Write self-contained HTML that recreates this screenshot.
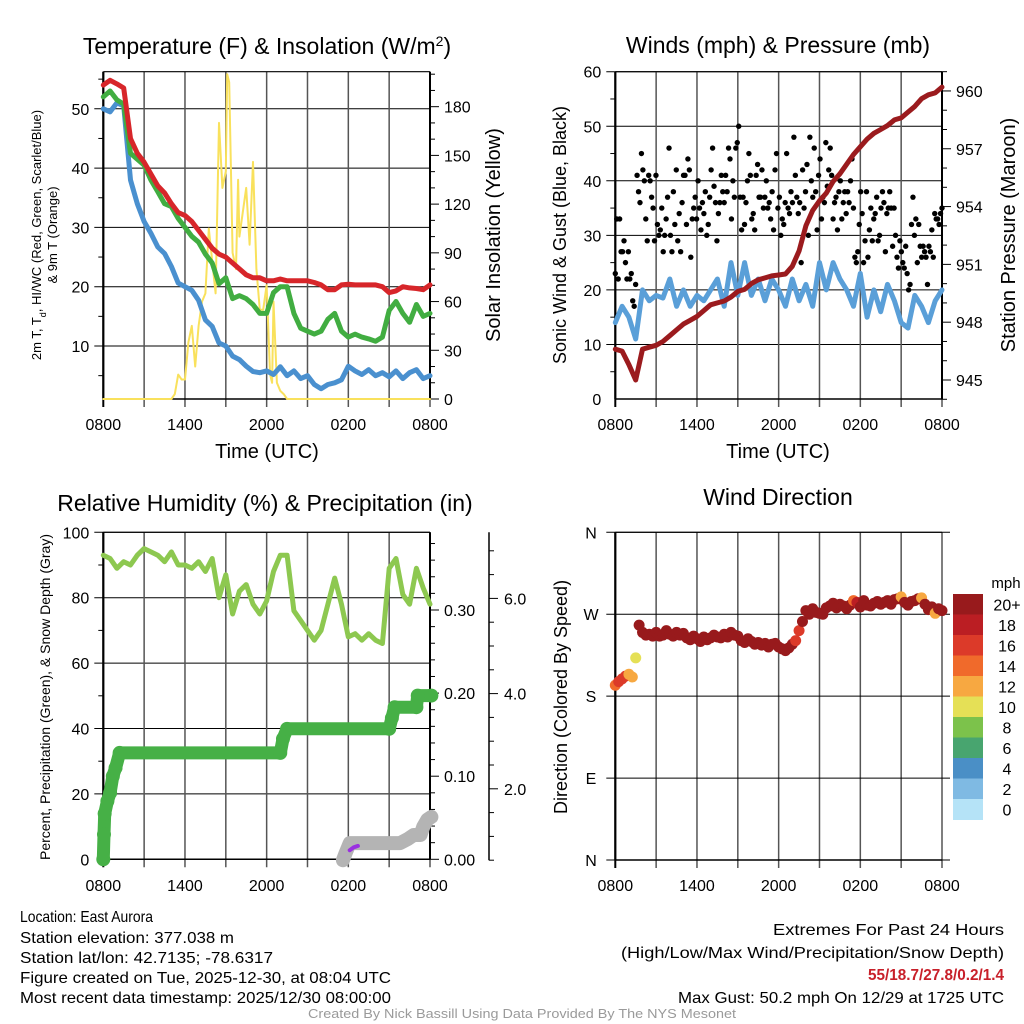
<!DOCTYPE html>
<html><head><meta charset="utf-8"><style>
html,body{margin:0;padding:0;background:#fff}
svg{display:block;font-family:"Liberation Sans",sans-serif}
</style></head><body>
<svg id="fig" width="1024" height="1024" viewBox="0 0 1024 1024">
<rect width="1024" height="1024" fill="#fff"/>
<g id="p1"></g>
<g id="p2"></g>
<g id="p3"></g>
<g id="p4"></g>
<text x="267" y="54" font-size="23" text-anchor="middle">Temperature (F) &amp; Insolation (W/m<tspan baseline-shift="super" font-size="14">2</tspan>)</text>
<text x="778" y="53" font-size="23" text-anchor="middle">Winds (mph) &amp; Pressure (mb)</text>
<text x="265" y="511" font-size="23" text-anchor="middle">Relative Humidity (%) &amp; Precipitation (in)</text>
<text x="778" y="505" font-size="23" text-anchor="middle">Wind Direction</text>
<text transform="translate(41,235) rotate(-90)" font-size="13" text-anchor="middle">2m T, T<tspan baseline-shift="sub" font-size="9">d</tspan>, HI/WC (Red, Green, Scarlet/Blue)</text>
<text transform="translate(57,235) rotate(-90)" font-size="13" text-anchor="middle">&amp; 9m T (Orange)</text>
<text transform="translate(500,235) rotate(-90)" font-size="20" text-anchor="middle">Solar Insolation (Yellow)</text>
<text transform="translate(566,235) rotate(-90)" font-size="18" text-anchor="middle">Sonic Wind &amp; Gust (Blue, Black)</text>
<text transform="translate(1015,235) rotate(-90)" font-size="20" text-anchor="middle">Station Pressure (Maroon)</text>
<text transform="translate(50,697) rotate(-90)" font-size="14" text-anchor="middle">Percent, Precipitation (Green), &amp; Snow Depth (Gray)</text>
<text transform="translate(567,697) rotate(-90)" font-size="18" text-anchor="middle">Direction (Colored By Speed)</text>
<text x="267" y="458" font-size="20" text-anchor="middle">Time (UTC)</text>
<text x="778" y="458" font-size="20" text-anchor="middle">Time (UTC)</text>
<g font-size="16">
<text x="20" y="922" textLength="133" lengthAdjust="spacingAndGlyphs">Location: East Aurora</text>
<text x="20" y="943" textLength="214" lengthAdjust="spacingAndGlyphs">Station elevation: 377.038 m</text>
<text x="20" y="963" textLength="253" lengthAdjust="spacingAndGlyphs">Station lat/lon: 42.7135; -78.6317</text>
<text x="20" y="983" textLength="371" lengthAdjust="spacingAndGlyphs">Figure created on Tue, 2025-12-30, at 08:04 UTC</text>
<text x="20" y="1003" textLength="371" lengthAdjust="spacingAndGlyphs">Most recent data timestamp: 2025/12/30 08:00:00</text>
</g>
<g font-size="16">
<text x="773" y="935" textLength="231" lengthAdjust="spacingAndGlyphs">Extremes For Past 24 Hours</text>
<text x="621" y="958" textLength="383" lengthAdjust="spacingAndGlyphs">(High/Low/Max Wind/Precipitation/Snow Depth)</text>
<text x="868" y="980" textLength="136" lengthAdjust="spacingAndGlyphs" fill="#c8202a" font-weight="bold">55/18.7/27.8/0.2/1.4</text>
<text x="678" y="1003" textLength="326" lengthAdjust="spacingAndGlyphs">Max Gust: 50.2 mph On 12/29 at 1725 UTC</text>
</g>
<text x="308" y="1018" font-size="13" fill="#9a9a9a" textLength="428" lengthAdjust="spacingAndGlyphs">Created By Nick Bassill Using Data Provided By The NYS Mesonet</text>
</svg>
<script>
// ---- data (half-hour steps from 0800 UTC, hours 0..24) ----
const xTickLabels = ["0800","1400","2000","0200","0800"];
const tempF = [54,54.8,54.2,53.5,45,42.5,41,39,37,35.8,34,32.5,32,31,29.5,28,26.5,25.5,25,24,23,22,21.5,21.5,21,21,21.3,21,21,21,21,20.7,20.3,19.5,19.5,20.3,20.4,20.3,20.3,20.3,20.3,20,19,19.3,20,19.8,19.7,19.5,20.3];
const dewF = [52,53,51.5,50.8,42.5,41.5,40.5,38,36,34,33.5,31.5,30,28.5,27.5,25.5,24,20.5,21.5,18,18.5,18,17,15.5,15.5,19,20,20,15.5,13,12.5,12,12.5,14.5,15.5,12.5,11.5,12,11.5,11.2,10.8,11.5,16,17.5,15.5,14,17,15,15.5];
const chillF = [50,49.5,51,50.5,38,34,31,29,26.7,25.6,23.4,20.6,20,19.4,17.7,14.4,13.3,10.5,10,8.3,7.7,6.6,5.7,5.5,5.8,5.2,6.5,5,5.8,4.5,5,3.5,2.8,3.5,3.8,4.3,6.6,5.8,5.2,6,5,5.5,4.8,5.8,4.5,5.5,6,4.5,5];
const solarHours = [0,5,5.25,5.5,5.75,6,6.25,6.5,6.75,7,7.25,7.5,7.75,8,8.25,8.5,8.75,9,9.1,9.25,9.5,9.75,9.9,10,10.25,10.5,10.75,11,11.25,11.5,11.75,12,12.25,12.4,12.5,12.75,13,13.25,13.5,24];
const solarWm2 = [0,0,3,15,12,12,35,45,20,45,60,65,105,85,65,170,130,140,200,195,90,80,135,100,115,130,95,146,80,55,55,70,15,10,60,10,5,3,0,0];
const windMph = [14,17,15,11,20,18,19,18.5,22,17,20,17,19,18,20,22,17,25,19,25,19,22,18,22,20,17,22,18,21,17,25,20,25,22,20,17,23,15,20,16,21,18,14,13,19,17,14,18,20];
const gustMph = [23,33,22,33,27,27,29,25,22,27,22,23,18,17,21,41,38,36,45,42,40,33,29,41,40,37,35,29,41,32,30,31,35,27,30,33,37,46,30,27,38,32,42,29,34,27,36,41,41,32,44,42,26,33,35,37,33,40,35,31,36,34,38,30,32,37,42,46,39,36,29,34,36,41,38,36,41,38,46,44,33,40,37,46,47,50,37,31,37,32,36,40,45,41,33,34,31,41,43,37,37,42,35,37,40,35,36,33,38,31,42,45,35,37,30,33,32,36,45,35,34,38,36,48,41,37,34,36,25,42,35,38,43,30,48,40,37,46,38,31,41,44,33,37,36,47,39,42,46,41,33,36,37,31,38,40,33,36,38,34,38,36,40,44,35,26,25,27,32,38,34,25,29,38,26,31,35,29,33,34,37,29,30,35,38,36,27,34,35,38,35,28,35,30,26,24,29,27,25,24,28,23,20,21,32,37,30,33,25,32,28,26,28,27,26,21,28,27,31,26,34,33,33,32,34,35];
const pressureMb = [946.6,946.5,945.8,945.0,946.6,946.7,946.8,947.0,947.3,947.6,947.9,948.1,948.3,948.6,948.9,949.0,949.1,949.3,949.6,949.7,950.0,950.2,950.3,950.4,950.45,950.5,950.9,951.7,953.0,953.8,954.3,954.7,955.3,955.7,956.2,956.7,957.1,957.5,957.8,958.0,958.2,958.5,958.6,958.9,959.2,959.6,959.8,959.9,960.2];
const rhPct = [93,92,89,91,90,93,95,94,93,91,94,90,90,89,91,88,92,80,87,75,82,84,78,75,79,88,93,93,76,73,70,67,70,78,86,78,68,69,67,69,67,66,89,92,81,78,89,83,78];
const precipHours = [0,0.05,0.1,0.3,0.5,0.7,0.9,1.2,13.0,13.2,13.5,21.0,21.2,21.4,23.0,23.1,24.1];
const precipIn = [0,0.03,0.055,0.07,0.08,0.1,0.11,0.128,0.128,0.145,0.157,0.157,0.17,0.183,0.183,0.197,0.197];
const snowHours = [17.6,17.8,18.1,21.8,22.4,22.8,23.3,23.5,23.8,24.1];
const snowIn = [0.5,0.65,0.86,0.86,0.95,1.03,1.03,1.2,1.35,1.41];
const purpleHours = [18.1,18.4,18.7];
const purpleIn = [0.71,0.77,0.8];
// wind direction, quarter-hour steps
const dirDeg = [192,196,199,202,204,201,222,258,250,247,248,246,250,246,247,252,248,246,250,247,249,244,242,246,243,240,245,242,244,247,245,244,248,245,250,247,246,241,239,243,240,237,239,236,238,234,237,238,234,232,230,233,237,241,252,262,274,270,276,272,271,270,277,279,282,277,281,279,276,280,285,283,278,285,280,279,282,284,281,283,285,281,286,287,289,283,280,284,285,287,288,281,275,278,271,276,274];
const dirSpeed = [14,16,17,16,13,13,10,22,22,22,22,22,22,22,22,22,22,22,22,22,22,22,22,22,22,22,22,22,22,22,22,22,22,22,22,22,22,22,22,22,22,22,22,22,22,22,22,22,22,22,22,22,22,17,16,22,22,22,22,22,22,22,22,22,22,22,22,22,22,22,14,18,22,22,22,22,22,22,22,22,22,22,22,22,13,22,22,22,22,22,13,22,22,22,12,22,22];
const speedLabels = ["0","2","4","6","8","10","12","14","16","18","20+"];
const speedColors = ["#b5e3f7","#7fbae3","#4a8fc6","#48a56f","#7cc24b","#e5e056","#f7a841","#f06a2b","#dc3a29","#bb1e23","#981a1c"];

const NS="http://www.w3.org/2000/svg";
function mk(parent,tag,attrs){const e=document.createElementNS(NS,tag);for(const k in attrs)e.setAttribute(k,attrs[k]);parent.appendChild(e);return e;}
function txt(parent,x,y,s,size,anchor){const t=mk(parent,'text',{x:x,y:y,'font-size':size,'text-anchor':anchor||'middle'});t.textContent=s;return t;}

function frame(g,L,R,T,B,opts){
  const xs=h=>L+h/24*(R-L);
  for(let h=0;h<=24;h+=3){
    const l=mk(g,'line',{x1:xs(h),x2:xs(h),y1:T,y2:B+8,stroke:(h===0?'#000':'#555'),'stroke-width':(h===0?2:1.5)});
    
    
  }
  xTickLabels.forEach((s,i)=>{const t=txt(g,xs(i*6),opts.xLabY,s,16);
    
    });
  mk(g,'line',{x1:L,x2:R,y1:T,y2:T,stroke:'#000','stroke-width':1.2});
  mk(g,'line',{x1:L,x2:R,y1:B,y2:B,stroke:'#000','stroke-width':1.5});
  return xs;
}
function hgrid(g,L,R,y,ext){const l=mk(g,'line',{x1:L-9,x2:R+(ext||0),y1:y,y2:y,stroke:'#000','stroke-width':1});
  
  }
function poly(g,pts,color,w){const p=mk(g,'polyline',{points:pts.map(p=>p[0].toFixed(1)+','+p[1].toFixed(1)).join(' '),fill:'none',stroke:color,'stroke-width':w,'stroke-linejoin':'round','stroke-linecap':'round'});return p;}
const halfH=i=>i*0.5;

// ===== Panel 1 =====
(function(){
  const g=document.getElementById('p1');
  const L=103.3,R=430,T=71.7,B=399;
  const yl=v=>405.3-v*5.93, yr=v=>399-v*1.624;
  [10,20,30,40,50].forEach(v=>{hgrid(g,L,R,yl(v));const t=txt(g,L-14,yl(v)+6,String(v),16,'end');
    
    });
  for(let v=5;v<=55;v+=10)mk(g,'line',{x1:L-5,x2:L,y1:yl(v),y2:yl(v),stroke:'#000'});
  const xs=frame(g,L,R,T,B,{xLabY:430});
  mk(g,'line',{x1:L,x2:L,y1:T,y2:B,stroke:'#000','stroke-width':2});
  mk(g,'line',{x1:R,x2:R,y1:T,y2:B,stroke:'#000','stroke-width':2});
  for(let v=0;v<=200;v+=10){const maj=v%30===0;mk(g,'line',{x1:R,x2:R+(maj?9:5),y1:yr(v),y2:yr(v),stroke:'#000'});
    if(maj&&v<=180){const t=txt(g,R+14,yr(v)+6,String(v),16,'start');
      
      }}
  const sp=poly(g,solarHours.map((h,i)=>[xs(h),yr(solarWm2[i])]),'#f9e15c',2);
  
  
  const cp=poly(g,chillF.map((v,i)=>[xs(halfH(i)),yl(v)]),'#4a90cf',5);
  
  
  const dp=poly(g,dewF.map((v,i)=>[xs(halfH(i)),yl(v)]),'#41ad41',5);
  
  
  const tp=poly(g,tempF.map((v,i)=>[xs(halfH(i)),yl(v)]),'#d7262a',5);
  
  
})();

// ===== Panel 2 =====
(function(){
  const g=document.getElementById('p2');
  const L=615.3,R=942,T=71.7,B=399;
  const yl=v=>399-v*5.455, yr=p=>380-(p-945)*19.27;
  [10,20,30,40,50,60].forEach(v=>hgrid(g,L,R,yl(v)));
  [0,10,20,30,40,50,60].forEach(v=>{const t=txt(g,L-14,yl(v)+6,String(v),16,'end');
    
    });
  for(let v=5;v<=55;v+=10)mk(g,'line',{x1:L-5,x2:L,y1:yl(v),y2:yl(v),stroke:'#000'});
  const xs=frame(g,L,R,T,B,{xLabY:430});
  mk(g,'line',{x1:L,x2:L,y1:T,y2:B,stroke:'#000','stroke-width':2});
  mk(g,'line',{x1:R,x2:R,y1:T,y2:B,stroke:'#000','stroke-width':2});
  for(let p=944;p<=961;p++){const maj=p%3===0;mk(g,'line',{x1:R,x2:R+(maj?9:5),y1:yr(p),y2:yr(p),stroke:'#000'});
    if(maj){const t=txt(g,R+14,yr(p)+6,String(p),16,'start');
      
      }}
  const wp=poly(g,windMph.map((v,i)=>[xs(halfH(i)),yl(v)]),'#5a9fd8',5);
  
  
  const n=gustMph.length;
  gustMph.forEach((v,i)=>{const c=mk(g,'circle',{cx:xs(i*24/(n-1)),cy:yl(v),r:2.7,fill:'#000'});
    
    });
  const pp=poly(g,pressureMb.map((v,i)=>[xs(halfH(i)),yr(v)]),'#9b1b1e',5);
  
  
})();

// ===== Panel 3 =====
(function(){
  const g=document.getElementById('p3');
  const L=103.3,R=430,T=532.3,B=859.3;
  const yl=v=>859.3-v*3.27, yp=v=>859.3-v*831, ys=v=>884-v*47.6;
  [20,40,60,80,100].forEach(v=>hgrid(g,L,R,yl(v)));
  [0,20,40,60,80,100].forEach(v=>{const t=txt(g,L-14,yl(v)+6,String(v),16,'end');
    
    });
  for(let v=10;v<=90;v+=20)mk(g,'line',{x1:L-5,x2:L,y1:yl(v),y2:yl(v),stroke:'#000'});
  const xs=frame(g,L,R,T,B,{xLabY:891});
  mk(g,'line',{x1:L,x2:L,y1:T,y2:B,stroke:'#000','stroke-width':2});
  mk(g,'line',{x1:R,x2:R,y1:T,y2:B,stroke:'#000','stroke-width':2});
  for(let k=0;k<=19;k++){const v=k*0.02;const maj=k%5===0;mk(g,'line',{x1:R,x2:R+(maj?9:5),y1:yp(v),y2:yp(v),stroke:'#000'});
    if(maj){const t=txt(g,R+14,yp(v)+6,v.toFixed(2),16,'start');
      
      }}
  const FX=489;
  mk(g,'line',{x1:FX,x2:FX,y1:T,y2:B+1,stroke:'#000','stroke-width':1.5});
  for(let k=1;k<=14;k++){const v=k*0.5;const maj=k%4===0;mk(g,'line',{x1:FX,x2:FX+(maj?9:5),y1:ys(v),y2:ys(v),stroke:'#000'});
    if(maj){const t=txt(g,FX+15,ys(v)+6,v.toFixed(1),16,'start');
      
      }}
  const rp=poly(g,rhPct.map((v,i)=>[xs(halfH(i)),yl(v)]),'#8dc850',5);
  
  
  const pl=poly(g,precipHours.map((h,i)=>[xs(h),yp(precipIn[i])]),'#46b046',13);
  
  
  precipHours.forEach((h,i)=>{const c=mk(g,'circle',{cx:xs(h),cy:yp(precipIn[i]),r:7,fill:'#46b046'});
    
    });
  const sn=poly(g,snowHours.map((h,i)=>[xs(h),ys(snowIn[i])]),'#b4b4b4',14);
  
  
  const pu=poly(g,purpleHours.map((h,i)=>[xs(h),ys(purpleIn[i])]),'#9a30e0',4);
  
  
})();

// ===== Panel 4 =====
(function(){
  const g=document.getElementById('p4');
  const L=615.3,R=942,T=532.3,B=860;
  const yd=d=>860-d*0.9103;
  const xs=frame(g,L,R,T,B,{xLabY:891});
  mk(g,'line',{x1:L,x2:L,y1:T,y2:B,stroke:'#000','stroke-width':2});
  [[0,'N'],[90,'E'],[180,'S'],[270,'W'],[360,'N']].forEach(([d,s])=>{hgrid(g,L,R,yd(d),8);
    const t=txt(g,591,yd(d)+6,s,16);
    
    });
  const n=dirDeg.length;
  dirDeg.forEach((d,i)=>{const bin=Math.min(10,Math.floor(dirSpeed[i]/2));
    const c=mk(g,'circle',{cx:xs(i*24/(n-1)),cy:yd(d),r:5.5,fill:speedColors[bin]});
    
    });
  const cb=mk(g,'g',{});
  
  
  const top=594,bh=20.5;
  const mt=txt(cb,1006,588,'mph',15);
  
  
  for(let k=10;k>=0;k--){const y=top+(10-k)*bh;
    const r=mk(cb,'rect',{x:953,y:y,width:30,height:bh+0.5,fill:speedColors[k]});
    
    
    const t=txt(cb,1007,y+bh/2+6,speedLabels[k],16);
    
    }
})();
</script>
</body></html>
